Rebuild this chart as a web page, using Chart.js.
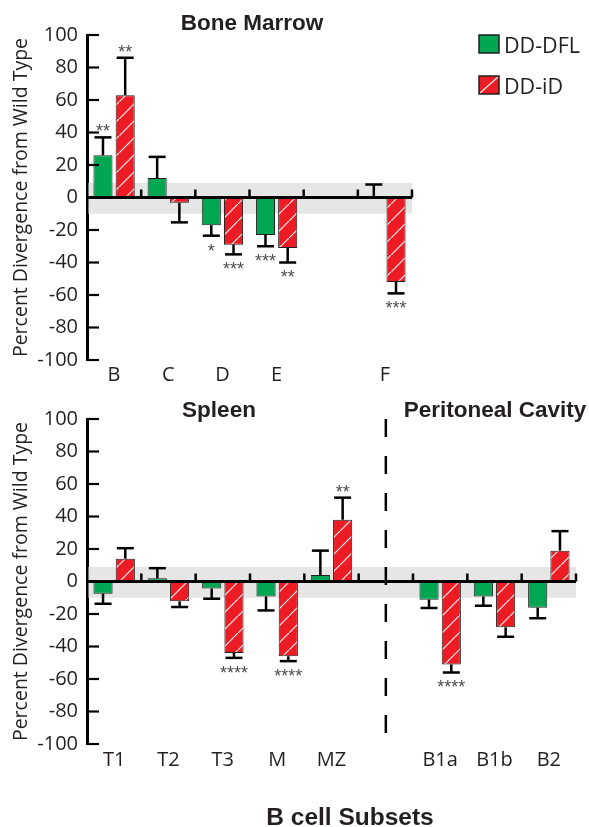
<!DOCTYPE html>
<html>
<head>
<meta charset="utf-8">
<script src="https://cdn.jsdelivr.net/npm/chart.js@4/dist/chart.umd.min.js"></script>
<style>
  html, body { margin: 0; padding: 0; background: #fff; }
  #wrap { position: relative; width: 589px; height: 827px; overflow: hidden; }
  #marrow { position: absolute; left: 0; top: 0; }
  #spleen { position: absolute; left: 0; top: 395px; }
</style>
</head>
<body>
<div id="wrap">
  <canvas id="marrow" width="589" height="395"></canvas>
  <canvas id="spleen" width="589" height="432"></canvas>
</div>
<script>
// ---- Bone marrow fractions (percent divergence from wild type) ----
const marrowLabels = ['B', 'C', 'D', 'E', '', 'F'];
const marrowDFL    = [26, 12, -17, -23, null, 0.5];
const marrowDFLErr = [11, 13, 6.5, 7, null, 7.5];
const marrowDFLSig = ['**', '', '*', '***', '', ''];
const marrowID     = [63, -3.3, -29, -31, null, -52];
const marrowIDErr  = [23, 12, 6, 9, null, 7];
const marrowIDSig  = ['**', '', '***', '**', '', '***'];

// ---- Spleen and peritoneal cavity subsets ----
const spleenLabels = ['T1', 'T2', 'T3', 'M', 'MZ', '', 'B1a', 'B1b', 'B2'];
const spleenDFL    = [-7.5, 2, -4.3, -9.2, 4, null, -11.2, -9.2, -16.1];
const spleenDFLErr = [6.2, 6.2, 6.3, 8.6, 15, null, 5.1, 5.7, 6.5];
const spleenDFLSig = ['', '', '', '', '', '', '', '', ''];
const spleenID     = [14, -12.2, -44, -46, 38, null, -51, -28.2, 19];
const spleenIDErr  = [6.5, 3.5, 3, 3, 13.6, null, 5, 5.8, 12];
const spleenIDSig  = ['', '', '****', '****', '**', '', '****', '', ''];

// ---- Shared axis settings ----
const seriesNames = ['DD-DFL', 'DD-iD'];
const yTickValues = [-100, -80, -60, -40, -20, 0, 20, 40, 60, 80, 100];
const noChangeBand = [-10, 9];   // shaded "no change" zone around zero
const yTitle = 'Percent Divergence from Wild Type';

const GREEN = '#00a651';
const RED = '#ed1c24';
const EDGE = '#231f20';
const INK = '#231f20';
const BAND = '#e6e6e6';
const STAR = '#4d4d4d';
const REG = '"Open Sans", "DejaVu Sans", sans-serif';
const BOLD = '"Liberation Sans", Arial, sans-serif';

function hatchPattern() {
  const n = 17;
  const c = document.createElement('canvas');
  c.width = n; c.height = n;
  const g = c.getContext('2d');
  g.fillStyle = RED;
  g.fillRect(0, 0, n, n);
  g.strokeStyle = 'rgba(255,255,255,0.92)';
  g.lineWidth = 1.2;
  g.beginPath();
  g.moveTo(-1, n + 1);
  g.lineTo(n + 1, -1);
  g.stroke();
  return g.createPattern(c, 'repeat');
}
const HATCH = hatchPattern();

function panelPlugin(cfg) {
  return {
    id: 'panelDecor',
    beforeDatasetsDraw(chart) {
      const { ctx, chartArea: a, scales: { y } } = chart;
      const t = y.getPixelForValue(noChangeBand[1]);
      const b = y.getPixelForValue(noChangeBand[0]);
      ctx.save();
      ctx.fillStyle = BAND;
      ctx.fillRect(a.left + 1.5, t, a.right - a.left - 1.5, b - t);
      ctx.restore();
    },
    afterDatasetsDraw(chart) {
      const { ctx, chartArea: a, scales: { x, y } } = chart;
      ctx.save();
      ctx.strokeStyle = '#000';
      ctx.lineCap = 'butt';

      // divider between spleen and peritoneal groups
      if (cfg.divider != null) {
        const dx = x.getPixelForValue(cfg.divider);
        ctx.save();
        ctx.lineWidth = 2.5;
        ctx.setLineDash([18, 19]);
        ctx.beginPath();
        ctx.moveTo(dx, y.getPixelForValue(100));
        ctx.lineTo(dx, a.bottom + 4);
        ctx.stroke();
        ctx.restore();
      }

      // zero line with upward ticks at category boundaries
      const y0 = y.getPixelForValue(0);
      ctx.lineWidth = 3;
      ctx.beginPath();
      ctx.moveTo(a.left, y0);
      ctx.lineTo(a.right, y0);
      ctx.stroke();
      const n = chart.data.labels.length;
      const half = (x.getPixelForValue(1) - x.getPixelForValue(0)) / 2;
      ctx.lineWidth = 2.5;
      for (let i = 0; i < n; i++) {
        const bx = x.getPixelForValue(i) + half;
        ctx.beginPath();
        ctx.moveTo(bx, y0);
        ctx.lineTo(bx, y0 - 8);
        ctx.stroke();
      }

      // inward y ticks
      ctx.lineWidth = 2.2;
      yTickValues.forEach(v => {
        const ty = y.getPixelForValue(v);
        ctx.beginPath();
        ctx.moveTo(a.left, ty);
        ctx.lineTo(a.left + 12, ty);
        ctx.stroke();
      });

      // error bars and significance stars
      chart.data.datasets.forEach((ds, di) => {
        const meta = chart.getDatasetMeta(di);
        const errs = cfg.errors[di];
        const sigs = cfg.stars[di];
        meta.data.forEach((bar, i) => {
          const v = ds.data[i];
          if (v == null) return;
          const dir = v >= 0 ? 1 : -1;
          const tipV = v + dir * errs[i];
          const yb = y.getPixelForValue(v);
          const yt = y.getPixelForValue(tipV);
          ctx.lineWidth = 2.5;
          ctx.beginPath();
          ctx.moveTo(bar.x, yb);
          ctx.lineTo(bar.x, yt);
          ctx.stroke();
          ctx.beginPath();
          ctx.moveTo(bar.x - 8.5, yt);
          ctx.lineTo(bar.x + 8.5, yt);
          ctx.stroke();
          if (sigs[i]) {
            const size = 18;
            ctx.font = size + 'px "Liberation Sans", Arial, sans-serif';
            ctx.fillStyle = STAR;
            ctx.textAlign = 'center';
            ctx.textBaseline = 'alphabetic';
            const cy = yt - dir * 10.5;
            ctx.fillText(sigs[i], bar.x, cy + size * 0.58);
          }
        });
      });

      // panel titles
      ctx.fillStyle = INK;
      ctx.textBaseline = 'alphabetic';
      ctx.textAlign = 'center';
      cfg.titles.forEach(t => {
        ctx.font = 'bold ' + t.size + 'px ' + BOLD;
        ctx.fillText(t.text, t.x, t.y);
      });

      // legend
      if (cfg.legend) {
        const L = cfg.legend;
        chart.data.datasets.forEach((ds, di) => {
          const bx = L.x, by = L.y + di * L.step;
          ctx.fillStyle = di === 0 ? GREEN : RED;
          ctx.fillRect(bx, by, 20, 18);
          if (di === 1) {
            ctx.strokeStyle = 'rgba(255,255,255,0.95)';
            ctx.lineWidth = 1.2;
            ctx.beginPath();
            ctx.moveTo(bx + 1, by + 17);
            ctx.lineTo(bx + 19, by + 1);
            ctx.stroke();
          }
          ctx.strokeStyle = EDGE;
          ctx.lineWidth = 1.5;
          ctx.strokeRect(bx, by, 20, 18);
          ctx.fillStyle = INK;
          ctx.font = '21.5px ' + REG;
          ctx.textAlign = 'left';
          ctx.fillText(ds.label, bx + 25, by + 18);
        });
      }
      ctx.restore();
    }
  };
}

function buildPanel(canvas, cfg) {
  return new Chart(canvas, {
    type: 'bar',
    data: {
      labels: cfg.labels,
      datasets: [
        {
          label: seriesNames[0], data: cfg.dfl,
          backgroundColor: GREEN, borderColor: EDGE, borderWidth: 1,
          borderSkipped: false, categoryPercentage: 0.82, barPercentage: 0.86
        },
        {
          label: seriesNames[1], data: cfg.id,
          backgroundColor: HATCH, borderColor: EDGE, borderWidth: 1,
          borderSkipped: false, categoryPercentage: 0.82, barPercentage: 0.86
        }
      ]
    },
    options: {
      responsive: false,
      animation: false,
      devicePixelRatio: 1,
      layout: { padding: cfg.padding },
      plugins: { legend: { display: false }, tooltip: { enabled: false }, title: { display: false } },
      scales: {
        x: {
          grid: { display: false, drawTicks: false },
          border: { display: false },
          ticks: { font: { family: REG, size: 20 }, color: INK, padding: cfg.xPad, autoSkip: false, maxRotation: 0 },
          afterFit: s => { s.height = cfg.xHeight; }
        },
        y: {
          min: -100, max: 100,
          grid: { display: false, drawTicks: false },
          border: { display: true, color: '#000', width: 3 },
          ticks: { stepSize: 20, font: { family: REG, size: 20 }, color: INK, padding: 9 },
          title: { display: true, text: yTitle, font: { family: REG, size: 19.5 }, color: INK, padding: { top: 10, bottom: 0 } },
          afterFit: s => { s.width = 87; }
        }
      }
    },
    plugins: [panelPlugin(cfg)]
  });
}

buildPanel(document.getElementById('marrow'), {
  labels: marrowLabels, dfl: marrowDFL, id: marrowID,
  errors: [marrowDFLErr, marrowIDErr], stars: [marrowDFLSig, marrowIDSig],
  padding: { left: 0, right: 177, top: 35, bottom: 0 },
  xHeight: 35, xPad: 3,
  titles: [{ text: 'Bone Marrow', x: 252, y: 30, size: 22.5 }],
  legend: { x: 479, y: 35, step: 41 },
  divider: null
});

buildPanel(document.getElementById('spleen'), {
  labels: spleenLabels, dfl: spleenDFL, id: spleenID,
  errors: [spleenDFLErr, spleenIDErr], stars: [spleenDFLSig, spleenIDSig],
  padding: { left: 0, right: 13, top: 24, bottom: 0 },
  xHeight: 83, xPad: 4,
  titles: [
    { text: 'Spleen', x: 219, y: 22, size: 22.5 },
    { text: 'Peritoneal Cavity', x: 495, y: 22, size: 22.5 },
    { text: 'B cell Subsets', x: 350, y: 430, size: 24.5 }
  ],
  legend: null,
  divider: 5
});
</script>
</body>
</html>
